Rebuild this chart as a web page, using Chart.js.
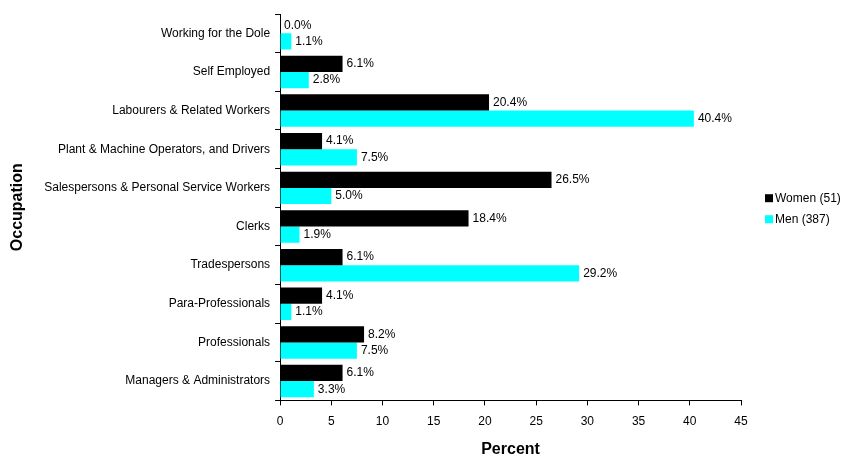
<!DOCTYPE html>
<html>
<head>
<meta charset="utf-8">
<script src="https://cdn.jsdelivr.net/npm/chart.js@4.4.0/dist/chart.umd.min.js"></script>
<style>
  body { margin: 0; background: #fff; }
  #wrap { width: 844px; height: 457px; }
</style>
</head>
<body>
<div id="wrap"><canvas id="occChart" width="844" height="457"></canvas></div>
<script>
const occupations = [
    'Working for the Dole',
    'Self Employed',
    'Labourers & Related Workers',
    'Plant & Machine Operators, and Drivers',
    'Salespersons & Personal Service Workers',
    'Clerks',
    'Tradespersons',
    'Para-Professionals',
    'Professionals',
    'Managers & Administrators'
];
const women = [0.0, 6.1, 20.4, 4.1, 26.5, 18.4, 6.1, 4.1, 8.2, 6.1];
const men = [1.1, 2.8, 40.4, 7.5, 5.0, 1.9, 29.2, 1.1, 7.5, 3.3];
const seriesNames = ['Women (51)', 'Men (387)'];

const FONT = 'Arial, "Liberation Sans", sans-serif';

// writes the percentage next to the end of each bar
const valueLabels = {
    id: 'valueLabels',
    afterDatasetsDraw(chart) {
        const ctx = chart.ctx;
        ctx.save();
        ctx.font = '12px ' + FONT;
        ctx.fillStyle = '#000';
        ctx.textBaseline = 'middle';
        ctx.textAlign = 'left';
        chart.data.datasets.forEach((ds, i) => {
            chart.getDatasetMeta(i).data.forEach((bar, j) => {
                ctx.fillText(ds.data[j].toFixed(1) + '%', bar.x + 4, bar.y);
            });
        });
        ctx.restore();
    }
};

// small legend to the right of the plot, kept outside the layout so the
// category axis can use its full width
const sideLegend = {
    id: 'sideLegend',
    afterDraw(chart) {
        const ctx = chart.ctx;
        const x = chart.chartArea.right + 24;
        const midY = (chart.chartArea.top + chart.chartArea.bottom) / 2;
        ctx.save();
        ctx.font = '12px ' + FONT;
        ctx.textBaseline = 'middle';
        ctx.textAlign = 'left';
        chart.data.datasets.forEach((ds, i) => {
            const y = midY - 9 + i * 21;
            ctx.fillStyle = ds.backgroundColor;
            ctx.fillRect(x, y - 4, 8, 8);
            ctx.fillStyle = '#000';
            ctx.fillText(ds.label, x + 10, y);
        });
        ctx.restore();
    }
};

new Chart(document.getElementById('occChart').getContext('2d'), {
    type: 'bar',
    data: {
        labels: occupations,
        datasets: [{
            label: seriesNames[0],
            data: women,
            backgroundColor: '#000000',
            barPercentage: 1.0,
            categoryPercentage: 0.84
        }, {
            label: seriesNames[1],
            data: men,
            backgroundColor: '#00ffff',
            barPercentage: 1.0,
            categoryPercentage: 0.84
        }]
    },
    options: {
        indexAxis: 'y',
        responsive: false,
        animation: false,
        layout: { padding: { top: 14, right: 103, left: 4, bottom: -2 } },
        plugins: {
            legend: { display: false },
            tooltip: { enabled: false }
        },
        scales: {
            x: {
                min: 0,
                max: 45,
                ticks: {
                    stepSize: 5,
                    color: '#000',
                    font: { family: FONT, size: 12 },
                    padding: 9
                },
                grid: { drawOnChartArea: false, tickLength: 5, color: '#000' },
                border: { color: '#000', width: 1 },
                title: {
                    display: true,
                    text: 'Percent',
                    color: '#000',
                    font: { family: FONT, size: 16, weight: 'bold' },
                    padding: { top: 2, bottom: 0 }
                }
            },
            y: {
                ticks: {
                    color: '#000',
                    font: { family: FONT, size: 12 },
                    padding: 5
                },
                grid: { drawOnChartArea: false, tickLength: 5, color: '#000', offset: true },
                border: { color: '#000', width: 1 },
                title: {
                    display: true,
                    text: 'Occupation',
                    color: '#000',
                    font: { family: FONT, size: 16, weight: 'bold' },
                    padding: { top: 4, bottom: 12 }
                }
            }
        }
    },
    plugins: [valueLabels, sideLegend]
});
</script>
</body>
</html>
